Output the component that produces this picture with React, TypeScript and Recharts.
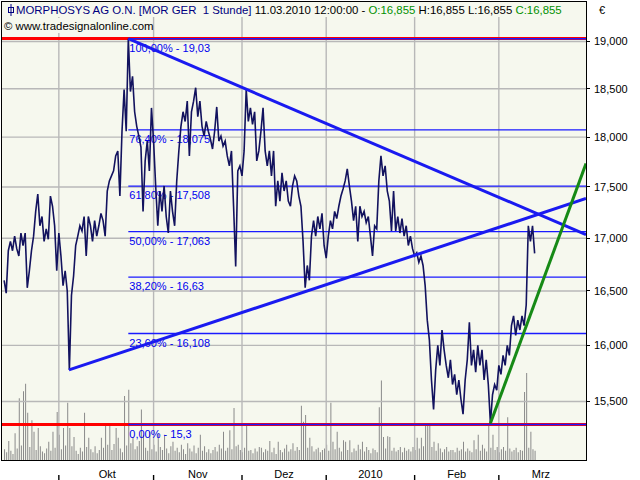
import React from 'react';
import { ComposedChart, Line, Bar, XAxis, YAxis, ReferenceLine } from 'recharts';

const FONT = '"Liberation Sans", Arial, sans-serif';
const PLOT_BG = '#f6f8ee';

// sampling interval of the series (trading days)
const STEP = 0.5;

// MorphoSys hourly closes (EUR), sampled every half trading day
const prices = [
  16.60, 16.48, 16.88, 16.97, 16.88, 17.02, 16.90, 16.83, 17.05, 16.93,
  17.05, 16.53, 16.69, 16.88, 17.02, 17.26, 17.43, 17.12, 17.21, 16.97,
  17.09, 16.99, 17.41, 17.31, 17.12, 16.69, 17.05, 16.83, 16.55, 16.69,
  16.50, 15.78, 16.46, 16.64, 16.93, 17.02, 17.12, 17.07, 17.21, 16.83,
  17.21, 17.12, 16.97, 17.17, 17.02, 17.12, 17.24, 17.17, 17.02, 17.46,
  17.56, 17.61, 17.66, 17.81, 17.86, 17.41, 18.06, 18.49, 18.06, 19.03,
  18.47, 18.63, 18.26, 18.11, 18.01, 17.90, 17.26, 17.76, 17.96, 17.66,
  18.30, 17.96, 17.51, 17.12, 17.46, 17.26, 17.51, 17.21, 17.05, 17.46,
  17.26, 17.12, 17.56, 17.86, 18.11, 18.26, 18.16, 18.37, 17.81, 18.26,
  18.37, 18.51, 18.21, 18.37, 18.11, 18.01, 18.16, 18.06, 17.98, 17.88,
  18.06, 18.31, 17.96, 18.01, 17.91, 17.96, 17.81, 17.71, 17.86, 17.31,
  16.73, 17.66, 17.71, 17.61, 17.86, 18.49, 18.16, 18.30, 18.13, 18.26,
  17.76, 17.86, 18.06, 18.30, 17.86, 17.71, 17.86, 17.61, 17.86, 17.31,
  17.56, 17.36, 17.64, 17.46, 17.56, 17.36, 17.31, 17.51, 17.61, 17.56,
  17.41, 17.31, 16.97, 16.53, 16.74, 16.60, 17.02, 17.17, 17.02, 17.21,
  17.09, 17.24, 16.93, 16.81, 17.02, 17.17, 17.09, 17.26, 17.19, 17.31,
  17.41, 17.48, 17.56, 17.68, 17.51, 17.36, 17.17, 17.31, 16.97, 17.31,
  17.21, 17.26, 17.15, 17.21, 17.02, 16.83, 17.12, 17.09, 17.56, 17.81,
  17.61, 17.71, 17.46, 17.36, 17.07, 17.46, 17.07, 17.21, 17.05, 17.19,
  17.02, 17.12, 16.93, 17.02, 16.90, 16.83, 16.86, 16.77, 16.83, 16.74,
  16.55, 16.23, 16.05, 15.69, 15.43, 15.78, 16.00, 15.82, 16.14, 15.96,
  15.82, 15.71, 15.87, 15.65, 15.74, 15.56, 15.69, 15.52, 15.39, 15.69,
  15.87, 16.21, 15.82, 15.96, 15.76, 16.00, 15.82, 15.96, 15.69, 15.87,
  15.65, 15.31, 15.56, 15.65, 15.60, 15.82, 15.74, 15.91, 15.82, 16.00,
  15.91, 16.18, 16.27, 16.09, 16.23, 16.14, 16.27, 16.18, 16.37, 17.12,
  16.97, 17.12, 16.855,
];

// volume (thousand shares) per sample
const volumes = [
  1.4, 1.0, 2.5, 1.2, 0.8, 3.5, 1.5, 8.1, 1.9, 9.0,
  10.0, 6.2, 1.7, 5.2, 3.7, 1.3, 4.2, 1.8, 1.1, 0.9,
  1.5, 2.4, 1.2, 3.7, 1.6, 6.3, 3.3, 1.4, 4.2, 1.9,
  7.5, 4.2, 1.8, 3.0, 1.2, 0.8, 1.6, 1.1, 6.2, 1.7,
  2.9, 1.4, 1.0, 1.8, 0.9, 1.3, 2.9, 1.6, 4.8, 2.0,
  4.7, 1.3, 2.1, 4.2, 2.9, 1.5, 1.0, 8.4, 1.9, 9.2,
  2.2, 3.0, 1.4, 1.8, 2.5, 6.6, 3.3, 1.6, 1.2, 3.7,
  1.4, 2.0, 1.1, 3.5, 1.7, 1.3, 3.3, 1.5, 0.9, 1.8,
  2.4, 1.2, 1.6, 1.0, 2.0, 1.4, 0.8, 2.2, 1.5, 1.1,
  1.9, 0.9, 1.6, 3.3, 1.2, 1.8, 1.0, 1.4, 0.9, 1.3,
  1.7, 1.1, 2.0, 1.5, 3.7, 1.2, 1.6, 3.9, 1.4, 6.8,
  1.8, 2.0, 1.3, 1.0, 1.6, 4.8, 1.2, 1.3, 0.9, 1.5,
  1.1, 1.7, 1.6, 1.0, 1.4, 1.2, 2.5, 1.0, 1.6, 0.8,
  2.4, 1.3, 1.0, 1.5, 2.0, 1.1, 1.4, 2.2, 1.2, 1.7,
  1.3, 7.1, 5.0, 5.9, 1.6, 2.9, 1.8, 1.1, 1.4, 1.6,
  1.0, 1.3, 1.5, 2.0, 1.2, 7.5, 2.4, 1.4, 3.7, 1.6,
  1.1, 2.6, 2.4, 1.3, 2.6, 1.0, 1.5, 1.2, 2.0, 1.4,
  2.4, 1.1, 1.7, 1.3, 0.9, 1.5, 1.3, 1.0, 6.9, 10.4,
  3.0, 1.5, 3.1, 3.0, 1.2, 1.6, 1.1, 1.3, 1.7, 1.0,
  1.6, 1.2, 1.4, 1.1, 1.7, 1.3, 2.9, 1.5, 2.9, 1.8,
  4.8, 4.6, 4.8, 1.7, 2.4, 1.2, 2.2, 1.5, 1.0, 1.4,
  1.7, 1.1, 1.3, 1.3, 1.0, 1.6, 1.2, 1.4, 2.4, 1.1,
  1.5, 1.2, 1.0, 2.6, 1.4, 3.3, 1.2, 2.0, 1.5, 1.1,
  4.8, 1.6, 3.3, 1.3, 1.7, 1.0, 1.4, 1.7, 1.2, 5.6,
  1.5, 1.1, 1.3, 1.6, 1.0, 1.3, 1.2, 8.9, 11.4, 1.6,
  3.7, 1.4, 1.2,
];

// time axis (trading days)
const timeDomain = [0, 138.7];
const monthStarts = [13.5, 36, 57, 77, 98, 118];
const monthLabelPos = [25, 46.5, 67, 87.5, 108, 128];
const monthLabels = ['Okt', 'Nov', 'Dez', '2010', 'Feb', 'Mrz'];

// price axis (log)
const priceDomain = [14.996, 19.4295];
const priceTicks = [15.5, 16, 16.5, 17, 17.5, 18, 18.5, 19];
const volumeDomain = [0, 60];

// Fibonacci retracement
const fibStart = 30;
const fibPercents = ['100,00%', '76,40%', '61,80%', '50,00%', '38,20%', '23,60%', '0,00%'];
const fibValues = [19.03, 18.075, 17.508, 17.063, 16.63, 16.108, 15.3];
const fibTexts = ['19,03', '18,075', '17,508', '17,063', '16,63', '16,108', '15,3'];

// support / resistance
const redLevels = [19.03, 15.3];

// trend lines [time, price]
const downTrend = [[30, 19.03], [138.7, 17.035]];
const upTrend = [[15.9, 15.78], [138.7, 17.386]];
const greenTrend = [[116, 15.31], [138.7, 17.733]];

const data = prices.map((p, i) => ({ t: (i + 1) * STEP, price: p, vol: volumes[i] }));

const seg = (pts: number[][]) => pts.map(([x, y]) => ({ x, y }));

const fibLabel = (text: string) => (props: any) => {
  const vb = props.viewBox || { x: 0, y: 0 };
  return (
    <text x={vb.x + 1} y={vb.y + 13} fill="#0000ee" fontSize={11} fontFamily={FONT}>
      {text}
    </text>
  );
};

export default function App() {
  return (
    <div style={{ position: 'absolute', left: 0, top: 0, width: 640, height: 480, background: '#ffffff', fontFamily: FONT }}>
      {/* plot background */}
      <div style={{ position: 'absolute', left: 2, top: 2, width: 584, height: 458, background: PLOT_BG }} />
      <div style={{ position: 'absolute', left: 0, top: 0 }}>
        <ComposedChart width={640} height={480} data={data} margin={{ top: 2, right: 0, bottom: 0, left: 2 }}>
          <XAxis
            xAxisId="time"
            type="number"
            dataKey="t"
            domain={timeDomain}
            allowDataOverflow
            ticks={monthStarts}
            interval={0}
            tickFormatter={() => ''}
            tickSize={5}
            height={5}
            axisLine={false}
            tickLine={{ stroke: '#000', strokeWidth: 1.4 }}
          />
          <XAxis
            xAxisId="labels"
            type="number"
            dataKey="t"
            domain={timeDomain}
            allowDataOverflow
            ticks={monthLabelPos}
            interval={0}
            tickFormatter={(v: number, i: number) => monthLabels[i]}
            axisLine={false}
            tickLine={false}
            tickSize={0}
            tickMargin={10}
            height={15}
            tick={{ fill: '#000', fontSize: 11, fontFamily: FONT }}
          />
          <YAxis
            yAxisId="price"
            orientation="right"
            scale="log"
            domain={priceDomain}
            allowDataOverflow
            ticks={priceTicks}
            interval={0}
            tickFormatter={(v: number) => v.toFixed(3).replace('.', ',')}
            width={54}
            tickSize={4}
            tickMargin={4}
            axisLine={false}
            tickLine={{ stroke: '#000', shapeRendering: 'crispEdges' }}
            tick={{ fill: '#000', fontSize: 11, fontFamily: FONT }}
          />
          <YAxis yAxisId="vol" hide domain={volumeDomain} allowDataOverflow />
          {priceTicks.map((v) => (
            <ReferenceLine key={'gy' + v} xAxisId="time" yAxisId="price" y={v} stroke="#b8b8b8" strokeWidth={1.4} ifOverflow="visible" />
          ))}
          {monthStarts.map((v) => (
            <ReferenceLine key={'gx' + v} xAxisId="time" yAxisId="price" x={v} stroke="#b8b8b8" strokeWidth={1.4} ifOverflow="visible" />
          ))}
          <Bar xAxisId="time" yAxisId="vol" dataKey="vol" fill="#8a8a8a" barSize={1} isAnimationActive={false} />
          {redLevels.map((v) => (
            <ReferenceLine key={'r' + v} xAxisId="time" yAxisId="price" y={v} stroke="#ff0000" strokeWidth={3} shapeRendering="crispEdges" ifOverflow="hidden" />
          ))}
          {fibValues.map((v, i) => (
            <ReferenceLine
              key={'f' + v}
              xAxisId="time"
              yAxisId="price"
              segment={[{ x: fibStart, y: v }, { x: timeDomain[1], y: v }]}
              stroke="#1a1aff"
              strokeWidth={1.3}
              ifOverflow="hidden"
              label={fibLabel(`${fibPercents[i]} - ${fibTexts[i]}`)}
            />
          ))}
          <Line xAxisId="time" yAxisId="price" dataKey="price" stroke="#12125e" strokeWidth={1.6} dot={false} isAnimationActive={false} />
          <ReferenceLine xAxisId="time" yAxisId="price" segment={seg(downTrend)} stroke="#1a1af0" strokeWidth={3} ifOverflow="hidden" />
          <ReferenceLine xAxisId="time" yAxisId="price" segment={seg(upTrend)} stroke="#1a1af0" strokeWidth={3} ifOverflow="hidden" />
          <ReferenceLine xAxisId="time" yAxisId="price" segment={seg(greenTrend)} stroke="#168a16" strokeWidth={3} ifOverflow="hidden" />
        </ComposedChart>
      </div>

      {/* header */}
      <div style={{ position: 'absolute', left: 2, top: 2, width: 584, height: 15, background: PLOT_BG, fontSize: 11.4, lineHeight: '15px', whiteSpace: 'nowrap' }}>
        <svg width={8} height={12} style={{ position: 'absolute', left: 5, top: 2 }}>
          <line x1={4} y1={0} x2={4} y2={12} stroke="#000080" strokeWidth={1} />
          <rect x={1.5} y={3.5} width={5} height={5} fill="none" stroke="#000080" strokeWidth={1} />
        </svg>
        <span style={{ position: 'absolute', left: 14, top: 1 }}>
          <span style={{ color: '#000080' }}>MORPHOSYS AG O.N. [MOR GER&nbsp; 1 Stunde]</span>
          <span style={{ color: '#000' }}> 11.03.2010 12:00:00 - </span>
          <span style={{ color: '#009000' }}>O:16,855</span>
          <span style={{ color: '#000' }}> H:16,855 L:16,855 </span>
          <span style={{ color: '#009000' }}>C:16,855</span>
        </span>
      </div>
      <div style={{ position: 'absolute', left: 2, top: 18, width: 150, height: 15, background: PLOT_BG, fontSize: 11.4, lineHeight: '15px', whiteSpace: 'nowrap', color: '#000' }}>
        <span style={{ position: 'absolute', left: 2, top: 1 }}>© www.tradesignalonline.com</span>
      </div>
      <div style={{ position: 'absolute', left: 599, top: 3, fontSize: 11, lineHeight: '14px', color: '#000' }}>€</div>
      {/* frame */}
      <div style={{ position: 'absolute', left: 1, top: 1, width: 586, height: 460, boxSizing: 'border-box', border: '1px solid #000', pointerEvents: 'none' }} />
    </div>
  );
}
